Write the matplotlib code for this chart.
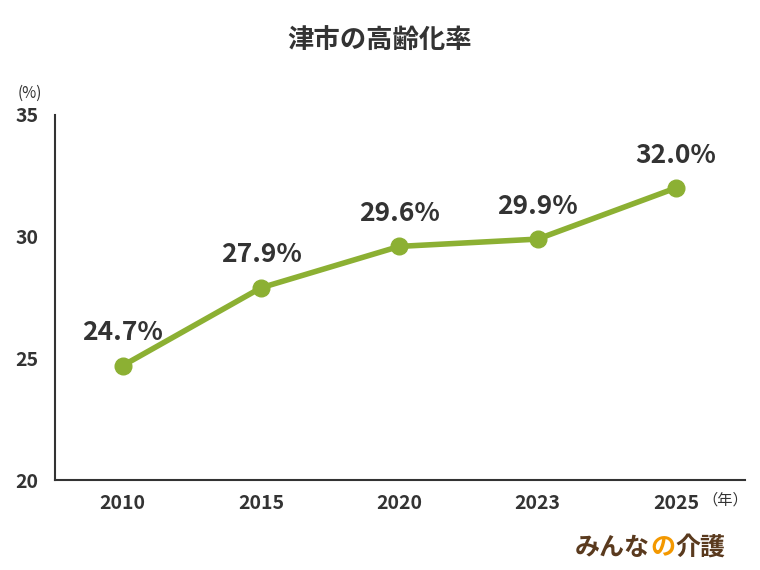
import matplotlib
matplotlib.use("Agg")
import matplotlib.pyplot as plt

plt.rcParams['font.family'] = ['Noto Sans CJK JP', 'DejaVu Sans']

years = ["2010", "2015", "2020", "2023", "2025"]
values = [24.7, 27.9, 29.6, 29.9, 32.0]
yticks = [20, 25, 30, 35]

fig = plt.figure(figsize=(7.6, 5.7), dpi=100)
ax = fig.add_axes([55/760, 90/570, 690/760, 365/570])
x = list(range(len(years)))
ax.plot(x, values, color='#8cb033', lw=4, marker='o', ms=12, mfc='#8cb033', mec='#8cb033', zorder=3)
for xi, v in zip(x, values):
    ax.annotate(f"{v:.1f}%", (xi, v), xytext=(0, 14), textcoords='offset points',
                ha='center', va='bottom', fontsize=19, fontweight='bold', color='#333333')
ax.set_xlim(-0.49, 4.5)
ax.set_ylim(20, 35)
ax.set_yticks(yticks)
ax.set_xticks(x)
ax.set_xticklabels(years)
ax.tick_params(length=0, labelsize=14, colors='#333333', pad=10)
for lab in ax.get_xticklabels() + ax.get_yticklabels():
    lab.set_fontweight('bold')
ax.tick_params(axis='y', pad=12)
ax.spines['top'].set_visible(False)
ax.spines['right'].set_visible(False)
for s in ['left', 'bottom']:
    ax.spines[s].set_color('#333333')
    ax.spines[s].set_linewidth(1.5)
fig.text(380/760, 1-40/570, "津市の高齢化率", ha='center', va='center', fontsize=19, fontweight='bold', color='#333333')
fig.text(30/760, 1-93/570, "(%)", ha='center', va='center', fontsize=11, color='#333333')
fig.text(725/760, 1-500/570, "（年）", ha='center', va='center', fontsize=11, color='#333333')
fig.text(650/760, 1-548/570, "みんな", ha='right', va='center', fontsize=18, fontweight='bold', color='#5a3a1e')
fig.text(663/760, 1-548/570, "の", ha='center', va='center', fontsize=18, fontweight='bold', color='#f39800')
fig.text(675/760, 1-548/570, "介護", ha='left', va='center', fontsize=18, fontweight='bold', color='#5a3a1e')
fig.savefig("out.png", dpi=100, facecolor='white')
